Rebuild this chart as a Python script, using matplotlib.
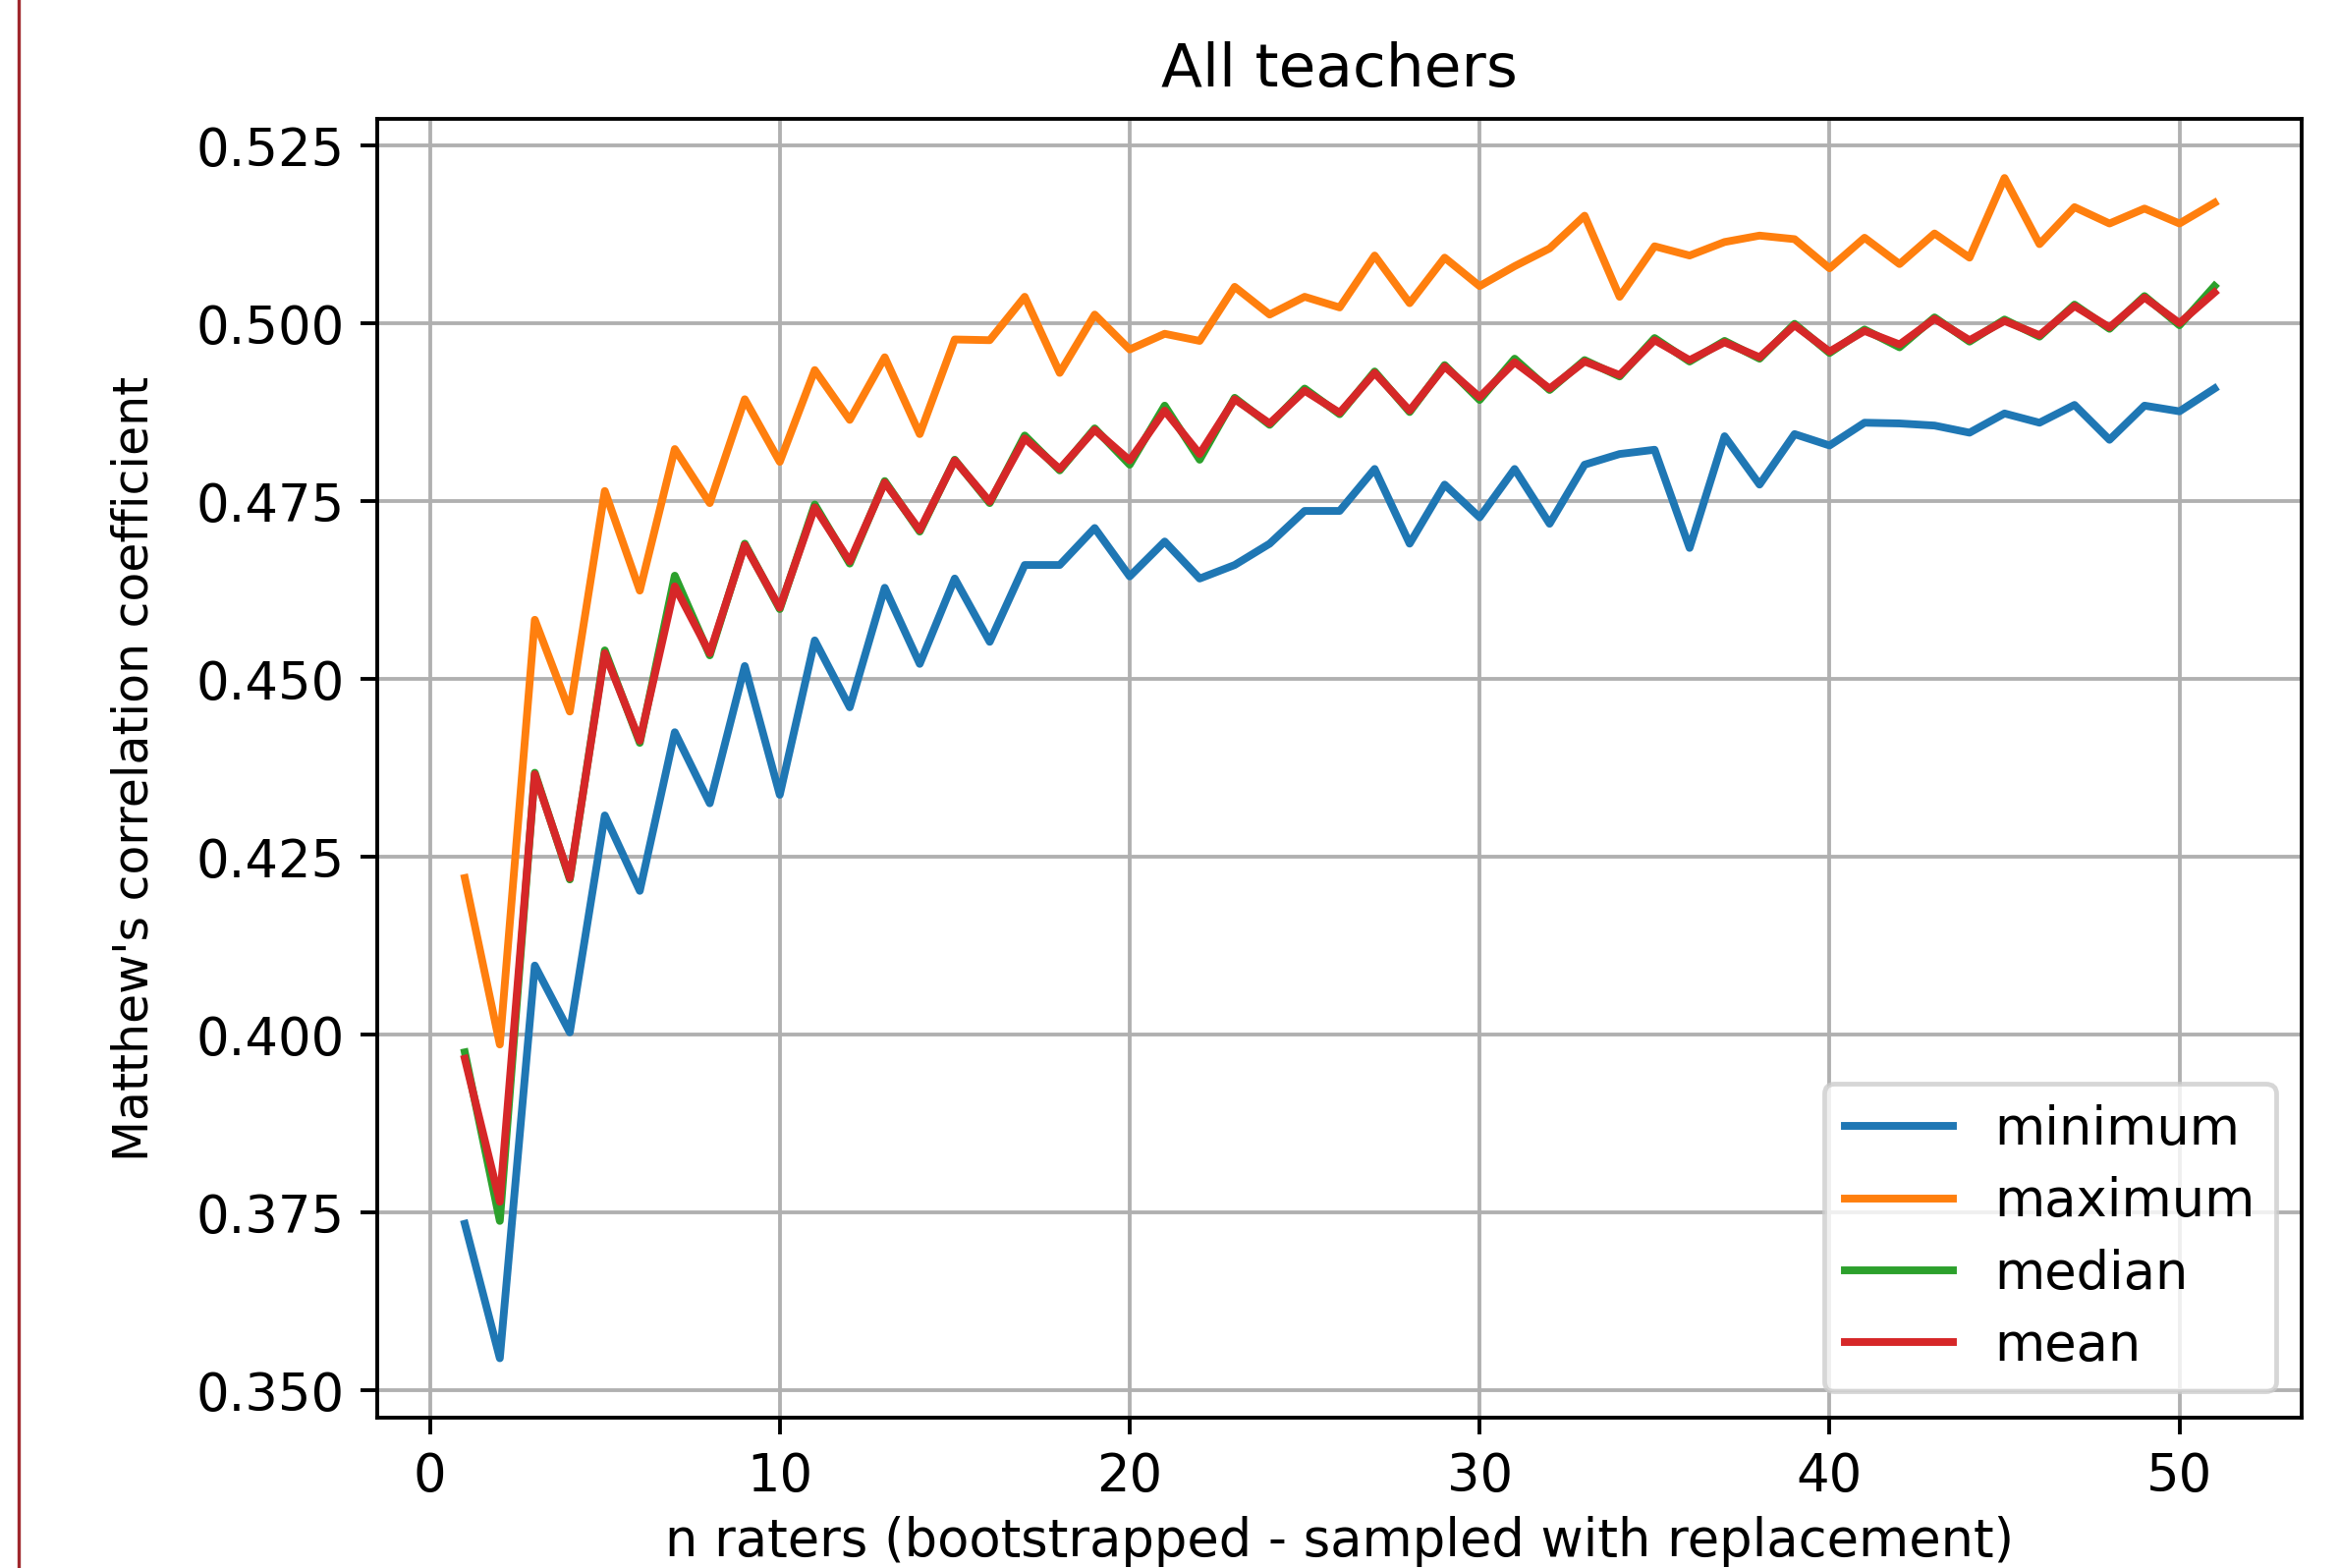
import matplotlib

matplotlib.use("Agg")
import matplotlib.pyplot as plt
import numpy as np
from matplotlib.lines import Line2D

# bootstrapped number of raters
n_raters = list(range(1, 52))

mcc_min = [0.3734, 0.3545, 0.4097, 0.4003, 0.4308, 0.4202, 0.4425, 0.4325, 0.4518, 0.4337,
           0.4554, 0.4460, 0.4628, 0.4521, 0.4641, 0.4552, 0.4660, 0.4660, 0.4712, 0.4644,
           0.4693, 0.4641, 0.4660, 0.4690, 0.4736, 0.4736, 0.4795, 0.4690, 0.4773, 0.4727,
           0.4795, 0.4718, 0.4801, 0.4816, 0.4822, 0.4684, 0.4841, 0.4773, 0.4844, 0.4828,
           0.4860, 0.4859, 0.4856, 0.4846, 0.4873, 0.4860, 0.4885, 0.4836, 0.4884, 0.4876,
           0.4908]
mcc_max = [0.4220, 0.3986, 0.4583, 0.4454, 0.4764, 0.4624, 0.4823, 0.4747, 0.4893, 0.4805,
           0.4934, 0.4864, 0.4952, 0.4844, 0.4977, 0.4976, 0.5037, 0.4930, 0.5012, 0.4963,
           0.4985, 0.4975, 0.5051, 0.5012, 0.5037, 0.5022, 0.5095, 0.5028, 0.5092, 0.5052,
           0.5080, 0.5105, 0.5151, 0.5037, 0.5108, 0.5095, 0.5114, 0.5123, 0.5118, 0.5077,
           0.5120, 0.5083, 0.5126, 0.5092, 0.5204, 0.5111, 0.5163, 0.5140, 0.5161, 0.5140,
           0.5169]
mcc_median = [0.3975, 0.3738, 0.4368, 0.4218, 0.4540, 0.4410, 0.4645, 0.4533, 0.4690, 0.4598,
              0.4745, 0.4662, 0.4778, 0.4707, 0.4808, 0.4747, 0.4842, 0.4793, 0.4852, 0.4801,
              0.4884, 0.4808, 0.4895, 0.4857, 0.4908, 0.4872, 0.4932, 0.4875, 0.4941, 0.4892,
              0.4950, 0.4906, 0.4948, 0.4925, 0.4979, 0.4946, 0.4975, 0.4950, 0.4999, 0.4958,
              0.4991, 0.4966, 0.5008, 0.4974, 0.5005, 0.4981, 0.5026, 0.4992, 0.5038, 0.4997,
              0.5052]
mcc_mean = [0.3966, 0.3765, 0.4366, 0.4220, 0.4536, 0.4413, 0.4630, 0.4536, 0.4688, 0.4600,
            0.4741, 0.4665, 0.4776, 0.4709, 0.4807, 0.4749, 0.4838, 0.4795, 0.4850, 0.4807,
            0.4877, 0.4816, 0.4893, 0.4859, 0.4905, 0.4874, 0.4930, 0.4877, 0.4939, 0.4896,
            0.4945, 0.4908, 0.4946, 0.4927, 0.4976, 0.4948, 0.4973, 0.4952, 0.4997, 0.4960,
            0.4989, 0.4970, 0.5006, 0.4976, 0.5003, 0.4983, 0.5024, 0.4994, 0.5036, 0.5000,
            0.5043]

series = [("minimum", mcc_min), ("maximum", mcc_max), ("median", mcc_median), ("mean", mcc_mean)]
yticks = [0.350, 0.375, 0.400, 0.425, 0.450, 0.475, 0.500, 0.525]
xticks = [0, 10, 20, 30, 40, 50]

DPI = 345
plt.rcParams["font.size"] = 11
fig = plt.figure(figsize=(2381.4 / DPI, 1596.4 / DPI), dpi=DPI)
ax = fig.add_axes([0.1613, 0.0961, 0.984 - 0.1613, 0.9239 - 0.0961])

for name, vals in series:
    ax.plot(n_raters, vals, label=name, lw=1.65)

ax.set_yticks(yticks)
ax.set_yticklabels([f"{t:.3f}" for t in yticks])
ax.set_xticks(xticks)
ax.grid(True, lw=0.8)
ax.set_title("All teachers", fontsize=12.8, pad=7)
ax.set_xlabel("n raters (bootstrapped - sampled with replacement)", labelpad=3)
ax.set_ylabel("Matthew's correlation coefficient", fontsize=10.2, labelpad=8)
ax.legend(loc="lower right", handlelength=2.1, labelspacing=0.4)

# thin dark-red border on the left edge of the image
fig.add_artist(Line2D([19 / 2381, 19 / 2381], [0, 1], transform=fig.transFigure,
                      color="#a0282d", lw=0.7))

fig.savefig("out.png", dpi=DPI)
